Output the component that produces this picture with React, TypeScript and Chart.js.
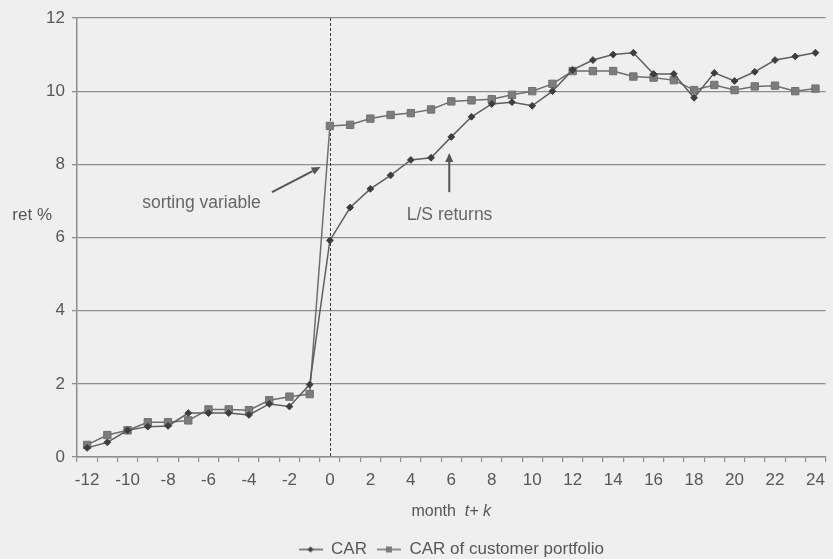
import React, { useEffect, useRef } from "react";
import { Chart, registerables } from "chart.js";

Chart.register(...registerables);

// ---- data ----
const months = [
  "-12", "-11", "-10", "-9", "-8", "-7", "-6", "-5", "-4", "-3", "-2", "-1",
  "0", "1", "2", "3", "4", "5", "6", "7", "8", "9", "10", "11", "12",
  "13", "14", "15", "16", "17", "18", "19", "20", "21", "22", "23", "24",
];
const shownTickLabels = [
  "-12", "-10", "-8", "-6", "-4", "-2", "0", "2", "4", "6", "8", "10",
  "12", "14", "16", "18", "20", "22", "24",
];
const carValues = [
  0.25, 0.4, 0.73, 0.83, 0.85, 1.2, 1.2, 1.2, 1.15, 1.45, 1.38, 1.98,
  5.92, 6.82, 7.33, 7.7, 8.12, 8.18, 8.75, 9.3, 9.65, 9.7, 9.6, 10.0, 10.58,
  10.85, 11.0, 11.05, 10.47, 10.47, 9.82, 10.5, 10.28, 10.53, 10.85, 10.95, 11.05,
];
const customerValues = [
  0.33, 0.6, 0.73, 0.95, 0.95, 1.0, 1.3, 1.3, 1.28, 1.55, 1.65, 1.72,
  9.05, 9.08, 9.25, 9.35, 9.4, 9.5, 9.72, 9.75, 9.78, 9.9, 10.0, 10.2, 10.55,
  10.55, 10.55, 10.4, 10.37, 10.3, 10.03, 10.17, 10.03, 10.13, 10.15, 10.0, 10.07,
];
const seriesNames = ["CAR", "CAR of customer portfolio"];
const yMin = 0;
const yMax = 12;
const yStep = 2;
const yAxisLabel = "ret %";
const xAxisLabelPlain = "month";
const xAxisLabelItalic = "t+ k";
const annotationTexts = ["sorting variable", "L/S returns"];

// ---- style ----
const FONT = '"Liberation Sans", Arial, Helvetica, sans-serif';
const BG = "#efefef";
const GRID = "#8e8e8e";
const TEXT = "#575757";
const CAR_LINE = "#5e5e5e";
const CAR_POINT = "#3e3e3e";
const CUST_LINE = "#6e6e6e";
const CUST_POINT = "#7c7c7c";

function makeIcon(kind: "diamond" | "square"): HTMLCanvasElement {
  const c = document.createElement("canvas");
  c.width = 24;
  c.height = 12;
  const g = c.getContext("2d")!;
  g.strokeStyle = kind === "diamond" ? CAR_LINE : CUST_LINE;
  g.lineWidth = 1.5;
  g.beginPath();
  g.moveTo(0, 6);
  g.lineTo(24, 6);
  g.stroke();
  if (kind === "diamond") {
    g.fillStyle = CAR_POINT;
    g.beginPath();
    g.moveTo(12, 3);
    g.lineTo(15, 6);
    g.lineTo(12, 9);
    g.lineTo(9, 6);
    g.closePath();
    g.fill();
  } else {
    g.fillStyle = CUST_POINT;
    g.fillRect(9, 3, 6, 6);
  }
  return c;
}

export default function App() {
  const ref = useRef<HTMLCanvasElement | null>(null);

  useEffect(() => {
    if (!ref.current) return;
    const icons = [makeIcon("diamond"), makeIcon("square")];
    const firstMonth = Number(months[0]);
    const xPix = (chart: any, m: number) => chart.scales.x.getPixelForValue(m - firstMonth);
    const yPix = (chart: any, v: number) => chart.scales.y.getPixelForValue(v);

    const bgPlugin = {
      id: "bg",
      beforeDraw(chart: any) {
        const { ctx, width, height } = chart;
        ctx.save();
        ctx.fillStyle = BG;
        ctx.fillRect(0, 0, width, height);
        ctx.restore();
      },
    };

    const zeroLinePlugin = {
      id: "zeroLine",
      beforeDatasetsDraw(chart: any) {
        const { ctx } = chart;
        const y = chart.scales.y;
        const px = Math.round(xPix(chart, 0)) + 0.5;
        ctx.save();
        ctx.strokeStyle = "#3c3c3c";
        ctx.lineWidth = 1;
        ctx.setLineDash([3, 2]);
        ctx.beginPath();
        ctx.moveTo(px, y.top);
        ctx.lineTo(px, y.bottom);
        ctx.stroke();
        ctx.restore();
      },
    };

    const arrow = (ctx: CanvasRenderingContext2D, x1: number, y1: number, x2: number, y2: number) => {
      const ang = Math.atan2(y2 - y1, x2 - x1);
      const len = 9;
      const hw = 4;
      const bx = x2 - len * Math.cos(ang);
      const by = y2 - len * Math.sin(ang);
      ctx.beginPath();
      ctx.moveTo(x1, y1);
      ctx.lineTo(bx, by);
      ctx.stroke();
      ctx.beginPath();
      ctx.moveTo(x2, y2);
      ctx.lineTo(bx + hw * Math.sin(ang), by - hw * Math.cos(ang));
      ctx.lineTo(bx - hw * Math.sin(ang), by + hw * Math.cos(ang));
      ctx.closePath();
      ctx.fill();
    };

    const annotationPlugin = {
      id: "annotations",
      afterDatasetsDraw(chart: any) {
        const { ctx } = chart;
        ctx.save();
        ctx.strokeStyle = "#555";
        ctx.fillStyle = "#555";
        ctx.lineWidth = 2;
        arrow(ctx, xPix(chart, -2.86), yPix(chart, 7.24), xPix(chart, -0.46), yPix(chart, 7.93));
        arrow(ctx, xPix(chart, 5.9), yPix(chart, 7.24), xPix(chart, 5.9), yPix(chart, 8.31));
        ctx.fillStyle = "#666";
        ctx.font = `17.5px ${FONT}`;
        ctx.textAlign = "left";
        ctx.textBaseline = "middle";
        ctx.fillText(annotationTexts[0], xPix(chart, -9.28), yPix(chart, 6.94));
        ctx.fillText(annotationTexts[1], xPix(chart, 3.8), yPix(chart, 6.62));
        ctx.restore();
      },
      afterDraw(chart: any) {
        const { ctx, chartArea } = chart;
        const xs = chart.scales.x;
        ctx.save();
        ctx.fillStyle = TEXT;
        ctx.textBaseline = "middle";
        // y axis label
        ctx.font = `17px ${FONT}`;
        ctx.textAlign = "right";
        ctx.fillText(yAxisLabel, 52, yPix(chart, 6.62));
        // x axis label with italic part
        ctx.textAlign = "left";
        const plainFont = `16px ${FONT}`;
        const italFont = `italic 16px ${FONT}`;
        ctx.font = plainFont;
        const plain = xAxisLabelPlain + "  ";
        const w1 = ctx.measureText(plain).width;
        ctx.font = italFont;
        const w2 = ctx.measureText(xAxisLabelItalic).width;
        const cx = (chartArea.left + chartArea.right) / 2;
        const start = cx - (w1 + w2) / 2;
        const ty = xs.top + 55;
        ctx.font = plainFont;
        ctx.fillText(plain, start, ty);
        ctx.font = italFont;
        ctx.fillText(xAxisLabelItalic, start + w1, ty);
        ctx.restore();
      },
    };

    const chart = new Chart(ref.current, {
      type: "line",
      data: {
        labels: months,
        datasets: [
          {
            label: seriesNames[0],
            data: carValues,
            borderColor: CAR_LINE,
            borderWidth: 1.5,
            pointStyle: "rectRot",
            pointRadius: 3.4,
            pointBackgroundColor: CAR_POINT,
            pointBorderColor: CAR_POINT,
            pointBorderWidth: 1,
            tension: 0,
            fill: false,
          },
          {
            label: seriesNames[1],
            data: customerValues,
            borderColor: CUST_LINE,
            borderWidth: 1.5,
            pointStyle: "rect",
            pointRadius: 5.2,
            pointBackgroundColor: CUST_POINT,
            pointBorderColor: "#707070",
            pointBorderWidth: 1,
            tension: 0,
            fill: false,
          },
        ],
      },
      options: {
        animation: false,
        responsive: false,
        devicePixelRatio: 1,
        layout: { padding: { top: 18, right: 0, left: 0, bottom: -9 } },
        plugins: {
          tooltip: { enabled: false },
          legend: {
            position: "bottom",
            fullSize: false,
            labels: {
              usePointStyle: true,
              pointStyleWidth: 24,
              padding: 10,
              color: TEXT,
              font: { family: FONT, size: 17 },
              generateLabels(ch: any) {
                const base = (Chart.defaults as any).plugins.legend.labels.generateLabels(ch);
                return base.map((l: any, i: number) => ({ ...l, pointStyle: icons[i], fontColor: TEXT }));
              },
            },
          },
        },
        scales: {
          x: {
            type: "category",
            offset: true,
            grid: {
              offset: true,
              drawOnChartArea: false,
              drawTicks: true,
              tickLength: 5,
              color: GRID,
              lineWidth: 1.2,
            },
            border: { display: true, color: GRID, width: 1.5 },
            ticks: {
              autoSkip: false,
              maxRotation: 0,
              minRotation: 0,
              padding: 8,
              color: TEXT,
              font: { family: FONT, size: 17 },
              callback: (_v: any, index: number) =>
                shownTickLabels.includes(months[index]) ? months[index] : "",
            },
            afterFit(scale: any) {
              scale.height = 74;
            },
          },
          y: {
            min: yMin,
            max: yMax,
            ticks: {
              stepSize: yStep,
              padding: 7,
              color: TEXT,
              font: { family: FONT, size: 17 },
            },
            grid: { color: GRID, lineWidth: 1.3, tickLength: 5 },
            border: { display: true, color: GRID, width: 1.5 },
            afterFit(scale: any) {
              scale.width = 77;
            },
          },
        },
      } as any,
      plugins: [bgPlugin, zeroLinePlugin, annotationPlugin],
    });
    return () => chart.destroy();
  }, []);

  return (
    <div style={{ position: "absolute", left: 0, top: 0, width: 833, height: 559, background: BG }}>
      <canvas ref={ref} width={833} height={559} style={{ display: "block", width: 833, height: 559 }} />
    </div>
  );
}
